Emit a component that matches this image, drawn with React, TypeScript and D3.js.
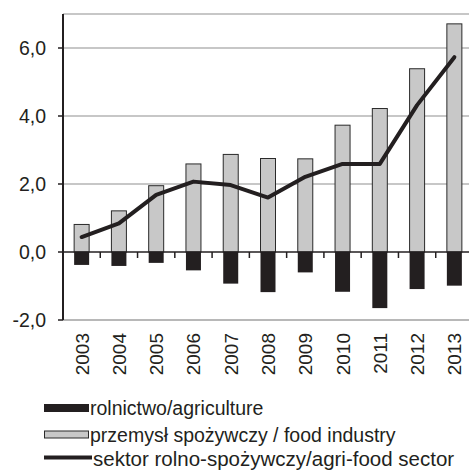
import React from "react";
import * as d3 from "d3";

const years = ["2003","2004","2005","2006","2007","2008","2009","2010","2011","2012","2013"];
const agriculture = [-0.38,-0.41,-0.32,-0.54,-0.93,-1.18,-0.6,-1.17,-1.65,-1.09,-0.99];
const foodIndustry = [0.81,1.21,1.95,2.59,2.87,2.75,2.74,3.73,4.22,5.39,6.71];
const agriFood = [0.44,0.84,1.68,2.07,1.97,1.6,2.21,2.59,2.59,4.32,5.73];
const yTicks = [-2,0,2,4,6];
const gridValues = [2,4,6,7];
const legendLabels = ["rolnictwo/agriculture","przemysł spożywczy / food industry","sektor rolno-spożywczy/agri-food sector"];

const W = 469, H = 470;
const left = 63, right = 473, top = 14, bottom = 320;
const font = "'Liberation Sans', Arial, sans-serif";

export default function App() {
  const xb = d3.scaleBand<string>().domain(years).range([left, right]);
  const y = d3.scaleLinear().domain([-2, 7]).range([bottom, top]);
  const bw = 15;
  const cx = (yr: string) => (xb(yr) as number) + xb.bandwidth() / 2;
  const line = d3.line<number>().x((_, i) => cx(years[i])).y(d => y(d));
  const fmt = (v: number) => v.toFixed(1).replace(".", ",");
  const ink = "#231f20";
  return (
    <svg width={W} height={H} style={{ position: "absolute", left: 0, top: 0, background: "#fff" }} fontFamily={font}>
      {gridValues.map(v => (
        <line key={v} x1={left} x2={W} y1={y(v)} y2={y(v)} stroke="#b4b4b4" strokeWidth={1.3} />
      ))}
      <line x1={left} x2={W} y1={y(-2)} y2={y(-2)} stroke="#b8b8b8" strokeWidth={2} />
      {years.map((yr, i) => (
        <rect key={"f" + yr} x={cx(yr) - bw / 2} y={y(foodIndustry[i])} width={bw} height={y(0) - y(foodIndustry[i])}
          fill="#c8c8c8" stroke="#2a2a2a" strokeWidth={1} />
      ))}
      {years.map((yr, i) => (
        <rect key={"a" + yr} x={cx(yr) - bw / 2} y={y(0)} width={bw} height={y(agriculture[i]) - y(0)}
          fill={ink} />
      ))}
      <line x1={left} x2={W} y1={y(0)} y2={y(0)} stroke={ink} strokeWidth={1.5} />
      {years.slice(1).map(yr => (
        <line key={"t" + yr} x1={xb(yr) as number} x2={xb(yr) as number} y1={y(0)} y2={y(0) + 6} stroke={ink} strokeWidth={1.5} />
      ))}
      <path d={line(agriFood) || ""} fill="none" stroke={ink} strokeWidth={4} strokeLinejoin="round" strokeLinecap="round" />
      <line x1={left} x2={left} y1={top} y2={bottom} stroke={ink} strokeWidth={2} />
      {yTicks.map(v => (
        <g key={v}>
          <line x1={left - 5} x2={left} y1={y(v)} y2={y(v)} stroke={ink} strokeWidth={1.5} />
          <text x={46} y={y(v)} dy="0.36em" textAnchor="end" fontSize={19.5} fill={ink}>{fmt(v)}</text>
        </g>
      ))}
      {years.map(yr => (
        <text key={"l" + yr} transform={`translate(${cx(yr) + 7},${333}) rotate(-90)`} textAnchor="end" fontSize={19} fill={ink}>{yr}</text>
      ))}
      <rect x={44} y={404} width={45} height={8} fill={ink} />
      <text x={90} y={415} fontSize={19.5} fill={ink}>{legendLabels[0]}</text>
      <rect x={44.5} y={431} width={44} height={7} fill="#c8c8c8" stroke="#2a2a2a" strokeWidth={1} />
      <text x={90} y={441.5} fontSize={19.5} fill={ink}>{legendLabels[1]}</text>
      <line x1={44} x2={92} y1={457.5} y2={457.5} stroke={ink} strokeWidth={4} />
      <text x={93} y={465.5} fontSize={20.5} fill={ink}>{legendLabels[2]}</text>
    </svg>
  );
}
